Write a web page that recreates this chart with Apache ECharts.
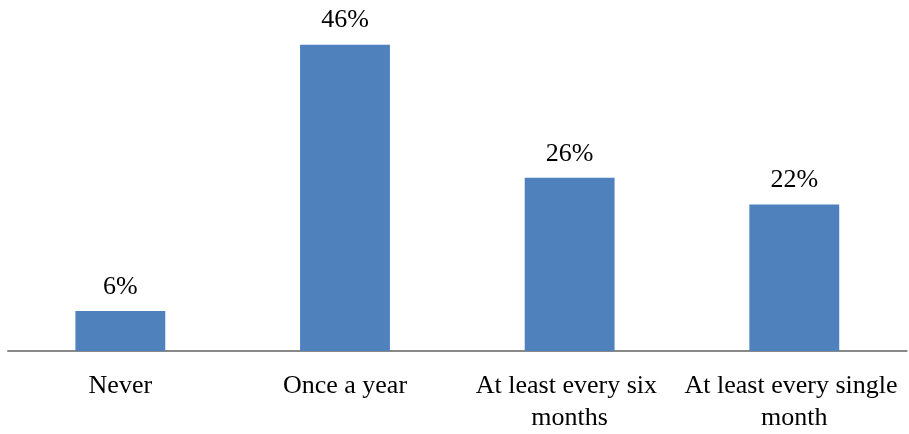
<!DOCTYPE html>
<html><head><meta charset="utf-8">
<script src="https://cdn.jsdelivr.net/npm/echarts@6/dist/echarts.min.js"></script>
<style>html,body{margin:0;padding:0;background:#fff}#c{width:909px;height:434px}</style>
</head><body><div id="c"></div>
<script>
const categories = ["Never", "Once a year", "At least every six months", "At least every single month"];
const values = [6, 46, 26, 22];

const chart = echarts.init(document.getElementById('c'));
chart.setOption({
  animation: false,
  grid: {left: 8, right: 0, top: 18, bottom: 78, containLabel: false},
  xAxis: {
    type: 'category', data: categories,
    axisLine: {lineStyle: {color: '#888888', width: 2}},
    axisTick: {show: false},
    axisLabel: {
      interval: 0, color: '#000', fontFamily: 'Liberation Serif', fontSize: 26,
      lineHeight: 32, margin: 19, width: 224, overflow: 'break'
    }
  },
  yAxis: {type: 'value', min: 0, max: 50, show: false, splitLine: {show: false}},
  series: [{
    type: 'bar', data: values, barWidth: '40%',
    itemStyle: {color: '#4F81BD'},
    label: {show: true, position: 'top', distance: 11, formatter: '{c}%',
      color: '#000', fontFamily: 'Liberation Serif', fontSize: 26}
  }]
});
</script></body></html>
